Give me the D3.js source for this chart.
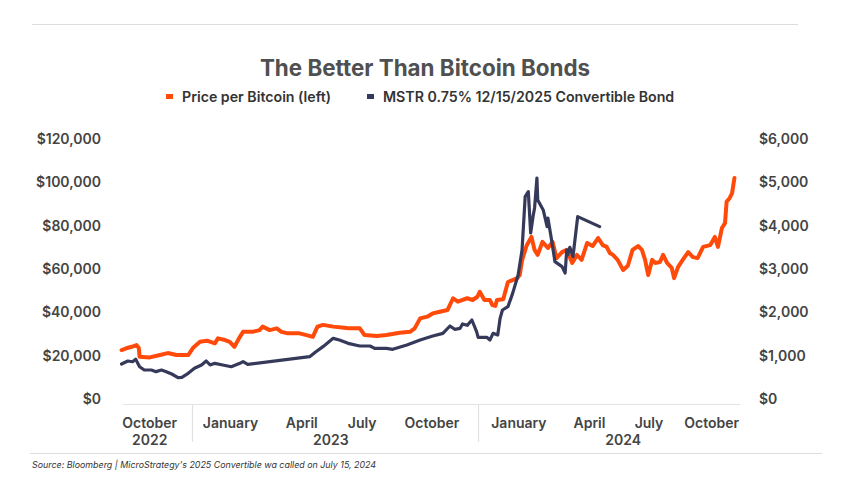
<!DOCTYPE html>
<html><head><meta charset="utf-8">
<script src="https://cdn.jsdelivr.net/npm/d3@7"></script>
<style>
html,body{margin:0;padding:0;background:#fff;}
svg{display:block;font-family:Inter,"Noto Sans",sans-serif;}
</style></head>
<body><svg id="c" width="848" height="477"></svg>
<script>
// ---- data ----
const btcDates = ["2022-10-03","2022-10-09","2022-10-16","2022-10-22","2022-10-25","2022-10-26","2022-11-08","2022-11-21","2022-12-01","2022-12-12","2022-12-27",
"2023-01-02","2023-01-11","2023-01-20","2023-01-30","2023-02-03","2023-02-12","2023-02-18","2023-02-24","2023-03-03","2023-03-07","2023-03-19","2023-03-28",
"2023-04-01","2023-04-10","2023-04-19","2023-04-25","2023-05-03","2023-05-18","2023-05-27","2023-06-04","2023-06-10","2023-06-17","2023-06-30","2023-07-17",
"2023-07-21","2023-08-03","2023-08-09","2023-08-25","2023-09-06","2023-09-23","2023-10-06","2023-10-12","2023-10-19","2023-10-28","2023-11-04","2023-11-13",
"2023-11-23","2023-11-30","2023-12-06","2023-12-18","2023-12-25","2023-12-31","2024-01-03","2024-01-09","2024-01-16","2024-01-19","2024-01-23","2024-01-25",
"2024-02-02","2024-02-08","2024-02-14","2024-02-20","2024-02-23","2024-02-26","2024-03-03","2024-03-09","2024-03-13","2024-03-17","2024-03-23","2024-03-30",
"2024-04-05","2024-04-10","2024-04-17","2024-04-23","2024-04-30","2024-05-06","2024-05-12","2024-05-19","2024-05-26","2024-06-02","2024-06-08","2024-06-13",
"2024-06-17","2024-06-21","2024-06-27","2024-07-04","2024-07-10","2024-07-16","2024-07-23","2024-07-28","2024-08-01","2024-08-05","2024-08-10","2024-08-14",
"2024-08-20","2024-08-24","2024-08-29","2024-09-04","2024-09-07","2024-09-12","2024-09-18","2024-09-25","2024-10-01","2024-10-07","2024-10-14","2024-10-23",
"2024-10-29","2024-11-02","2024-11-07","2024-11-11","2024-11-13","2024-11-17","2024-11-20","2024-11-23"];
const btcPrice = [22600,23400,24100,24900,23500,19500,19200,20300,21200,20300,20300,
23500,26400,26900,25700,28000,27200,26400,24100,28700,31000,31000,31800,
33400,31800,32600,31000,30300,30300,29500,28700,33400,34200,33400,32800,
32600,32600,29500,29100,29500,30600,31000,32600,37200,38000,39500,40300,
41100,46500,44900,46500,45700,47200,49500,45700,45700,43400,43000,45700,
46000,54000,54900,55800,57200,64000,71000,74800,68800,66500,72500,69700,
72500,65000,67800,68800,62800,66500,64200,72000,70600,74300,71000,70200,
67400,66500,64200,59500,61500,68800,70600,68800,64200,57200,64200,62800,
63200,66500,62800,60500,55800,60900,64200,67800,65500,65000,70200,71000,
74800,70200,78900,81200,91000,92800,95000,102000];

const bondDates = ["2022-10-03","2022-10-11","2022-10-17","2022-10-21","2022-10-26","2022-11-01","2022-11-10","2022-11-16","2022-11-23","2022-11-29","2022-12-06",
"2022-12-14","2022-12-19","2022-12-27","2023-01-04","2023-01-13","2023-01-19","2023-01-24","2023-01-30","2023-02-09","2023-02-20","2023-03-03","2023-03-07",
"2023-03-13","2023-05-31","2023-06-08","2023-06-17","2023-06-30","2023-07-08","2023-07-19","2023-08-03","2023-08-16","2023-08-22","2023-09-06","2023-09-14",
"2023-10-02","2023-10-19","2023-11-04","2023-11-17","2023-11-26","2023-12-02","2023-12-09","2023-12-12","2023-12-18","2023-12-24","2023-12-30","2024-01-01",
"2024-01-12","2024-01-16","2024-01-20","2024-01-26","2024-01-29","2024-02-01","2024-02-08","2024-02-14","2024-02-21","2024-02-26","2024-03-01","2024-03-05",
"2024-03-08","2024-03-11","2024-03-13","2024-03-16","2024-03-17","2024-03-24","2024-03-29","2024-03-30","2024-04-03","2024-04-08","2024-04-17","2024-04-21",
"2024-04-23","2024-04-24","2024-04-27","2024-05-01","2024-05-07","2024-06-04"];
const bondPrice = [808,877,860,916,745,669,669,631,669,631,577,
492,500,592,708,785,877,785,823,785,745,823,862,
800,977,1092,1208,1400,1362,1285,1223,1223,1169,1169,1146,
1246,1362,1454,1515,1685,1608,1631,1731,1700,1823,1554,1423,
1423,1362,1515,1477,1862,2054,2131,2438,2862,3438,4669,4785,
3831,4208,4408,5100,4592,4362,3977,4177,3746,3169,3054,2908,
3438,3323,3500,3285,4208,3977];

const leftTicks = [0,20000,40000,60000,80000,100000,120000];
const rightTicks = [0,1000,2000,3000,4000,5000,6000];
const monthLabels = ["October","January","April","July","October","January","April","July","October"];
const monthAnchors = ["2022-11-08","2023-02-19","2023-05-21","2023-08-06","2023-11-03","2024-02-22","2024-05-22","2024-08-06","2024-10-25"];
const yearLabels = ["2022","2023","2024"];
const yearAnchors = ["2022-11-08","2023-06-27","2024-07-04"];
const yearBreaks = ["2023-01-01","2024-01-01"];

const title = "The Better Than Bitcoin Bonds";
const seriesNames = ["Price per Bitcoin (left)","MSTR 0.75% 12/15/2025 Convertible Bond"];
const source = "Source: Bloomberg | MicroStrategy's 2025 Convertible wa called on July 15, 2024";

// ---- chart ----
const parse = d3.utcParse("%Y-%m-%d");
const svg = d3.select("#c");
const ORANGE = "#FF4a0a", NAVY = "#363a5a", TXT = "#444";

const x = d3.scaleUtc().domain([parse("2022-10-01"), parse("2024-11-25")]).range([120, 736]);
const yL = d3.scaleLinear().domain([0,120000]).range([399,139]);
const yR = d3.scaleLinear().domain([0,6000]).range([399,139]);

// top rule
svg.append("line").attr("x1",32).attr("x2",798).attr("y1",24.5).attr("y2",24.5).attr("stroke","#ddd").attr("stroke-width",1);

// title
svg.append("text").attr("x",425).attr("y",76).attr("text-anchor","middle")
  .attr("font-size",22.4).attr("font-weight",700).attr("fill","#505050").text(title);

// legend
const leg = svg.append("g");
const legItems = [{n:seriesNames[0],c:ORANGE,x:166},{n:seriesNames[1],c:NAVY,x:367}];
legItems.forEach(d=>{
  leg.append("rect").attr("x",d.x).attr("y",94).attr("width",7).attr("height",5).attr("fill",d.c);
  leg.append("text").attr("x",d.x+16).attr("y",102).attr("font-size",14.2).attr("font-weight",600).attr("fill","#333").text(d.n);
});

// axes
const fmt = d3.format("$,");
const gL = svg.append("g").attr("transform","translate(101,0)")
  .call(d3.axisLeft(yL).tickValues(leftTicks).tickFormat(fmt).tickSize(0).tickPadding(0));
const gR = svg.append("g").attr("transform","translate(759,0)")
  .call(d3.axisRight(yR).tickValues(rightTicks).tickFormat(fmt).tickSize(0).tickPadding(0));
[gL,gR].forEach(g=>{
  g.select(".domain").remove();
  g.selectAll("text").attr("font-size",14).attr("font-weight",600).attr("fill",TXT).attr("font-family","Inter");
});

// bottom axis line
svg.append("line").attr("x1",123).attr("x2",740).attr("y1",404.5).attr("y2",404.5).attr("stroke","#e2e2e2").attr("stroke-width",1.2);
yearBreaks.forEach(d=>{
  const xx = Math.round(x(parse(d)))+0.5;
  svg.append("line").attr("x1",xx).attr("x2",xx).attr("y1",404).attr("y2",442).attr("stroke","#e2e2e2").attr("stroke-width",1.2);
});
const gx = svg.append("g");
monthLabels.forEach((m,i)=>{
  gx.append("text").attr("x",x(parse(monthAnchors[i]))).attr("y",428).attr("text-anchor","middle")
    .attr("font-size",14).attr("font-weight",600).attr("fill",TXT).text(m);
});
yearLabels.forEach((m,i)=>{
  gx.append("text").attr("x",x(parse(yearAnchors[i]))).attr("y",445).attr("text-anchor","middle")
    .attr("font-size",14).attr("font-weight",600).attr("fill",TXT).text(m);
});
svg.append("line").attr("x1",30).attr("x2",822).attr("y1",453.5).attr("y2",453.5).attr("stroke","#ddd").attr("stroke-width",1);
svg.append("text").attr("x",32).attr("y",468).attr("font-size",8.9).attr("font-style","italic").attr("fill","#333").text(source);

// lines
const btc = btcDates.map((d,i)=>({d:parse(d),v:btcPrice[i]}));
const bond = bondDates.map((d,i)=>({d:parse(d),v:bondPrice[i]}));
const lineL = d3.line().x(d=>x(d.d)).y(d=>yL(d.v));
const lineR = d3.line().x(d=>x(d.d)).y(d=>yR(d.v));
svg.append("path").datum(btc).attr("fill","none").attr("stroke",ORANGE).attr("stroke-width",4)
  .attr("stroke-linejoin","round").attr("stroke-linecap","round").attr("d",lineL);
svg.append("path").datum(bond).attr("fill","none").attr("stroke",NAVY).attr("stroke-width",3.2)
  .attr("stroke-linejoin","round").attr("stroke-linecap","round").attr("d",lineR);
</script></body></html>
